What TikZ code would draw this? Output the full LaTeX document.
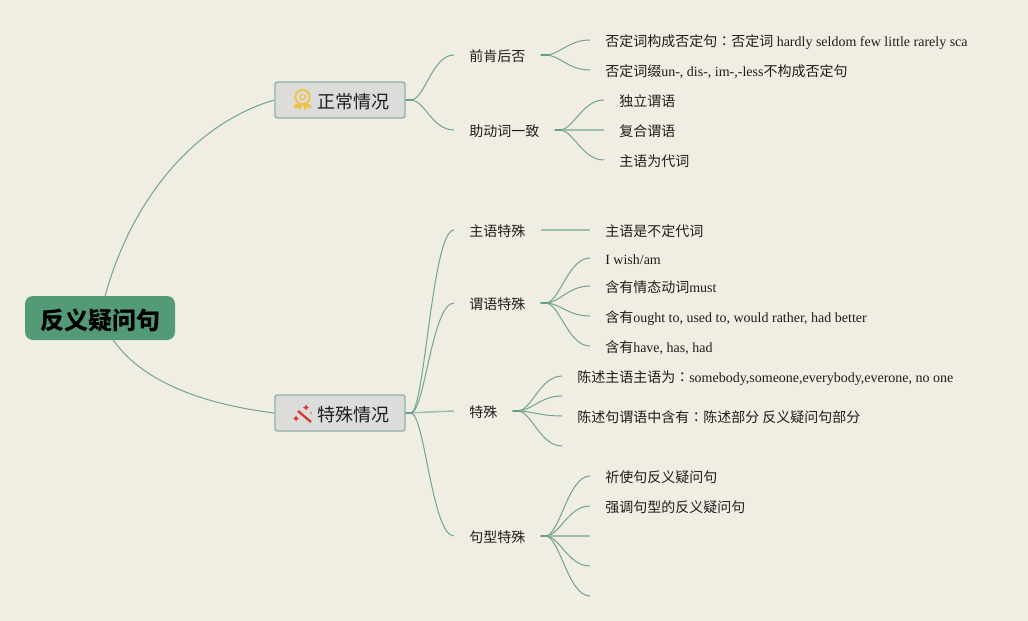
\documentclass[tikz,border=0pt]{standalone}
\usepackage{fontspec}
\setmainfont{Liberation Serif}
\newfontfamily\cjk{Noto Sans CJK SC}
\newfontfamily\cjktc{Noto Sans CJK TC}
\definecolor{bgc}{HTML}{F0EDE3}
\definecolor{rootc}{HTML}{539A76}
\definecolor{linec}{HTML}{6FA48F}
\definecolor{stubc}{HTML}{5B9A84}
\definecolor{boxc}{HTML}{DCDCDA}
\definecolor{boxb}{HTML}{8FB5A8}
\definecolor{inkc}{HTML}{1E1E1E}
\definecolor{medalc}{HTML}{EFC34A}
\definecolor{wandc}{HTML}{D2392C}
\newcommand{\cjkcolon}{{\cjktc ：}}
\newcommand{\myconn}[2]{%
  \draw[stubline] (#1) -- ++(7,0);
  \draw[conline] (#1) -- ++(5,0) .. controls +(14,0) and +(-22,0) .. (#2);}
\newcommand{\myflat}[2]{%
  \draw[stubline] (#1) -- ++(7,0);
  \draw[flatline] (#1) -- (#2);}
\tikzset{
  x=0.75pt,y=-0.75pt,
  conline/.style={draw=linec,line width=0.75pt},
  flatline/.style={draw=linec!65!bgc,line width=1.1pt},
  stubline/.style={draw=stubc,line width=1.4pt},
  rootbox/.style={fill=rootc,rounded corners=6pt,minimum width=112.5pt,minimum height=33pt,inner sep=0pt,text height=18.5pt,text depth=2pt,text=black,font=\cjk\bfseries\fontsize{18}{20}\selectfont},
  branchbox/.style={fill=boxc,draw=boxb,line width=1.1pt,rounded corners=1.8pt,minimum width=97.5pt,minimum height=27pt,inner sep=0pt,text height=14pt,text depth=1.6pt,text=inkc,font=\cjk\fontsize{13.5}{15}\selectfont},
  topic/.style={inner xsep=11.25pt,inner ysep=0pt,text height=12pt,text depth=2pt,text=inkc,font=\fontsize{10.5}{12}\selectfont},
}
\begin{document}
\begin{tikzpicture}
\useasboundingbox (0,0) rectangle (1028,621);
\fill[bgc] (0,0) rectangle (1028,621);

% main boxes
\node[rootbox] (root) at (100,318) {反义疑问句};
\node[branchbox] (normal) at (340,100) {\hspace*{19.5pt}正常情况};
\node[branchbox] (special) at (340,413) {\hspace*{19.5pt}特殊情况};

% medal icon
\draw[medalc,line width=1.5pt] (302.5,97) circle (7.2);
\draw[medalc,line width=1pt] (302.5,97) circle (2.8);
\fill[medalc] (294,105) -- (299,103) -- (302,106) -- (300,110.5) -- (298,107.5) -- (294,108.5) -- cycle;
\fill[medalc] (311,105) -- (306,103) -- (303,106) -- (305,110.5) -- (307,107.5) -- (311,108.5) -- cycle;

% wand icon
\draw[wandc,line width=1.7pt] (298,411) -- (311,422);
\fill[wandc] (306,404.5) -- (307,406.5) -- (309,407.5) -- (307,408.5) -- (306,410.5) -- (305,408.5) -- (303,407.5) -- (305,406.5) -- cycle;
\fill[wandc] (296,415.5) -- (297,417.5) -- (299,418.5) -- (297,419.5) -- (296,421.5) -- (295,419.5) -- (293,418.5) -- (295,417.5) -- cycle;
\fill[wandc!80!bgc] (311,413) circle (0.9);

% second level
\node[topic,anchor=west] (qk) at (454,55) {\cjk 前肯后否};
\node[topic,anchor=west] (zd) at (454,130) {\cjk 助动词一致};
\node[topic,anchor=west] (zy) at (454,230) {\cjk 主语特殊};
\node[topic,anchor=west] (wy) at (454,303) {\cjk 谓语特殊};
\node[topic,anchor=west] (ts) at (454,411) {\cjk 特殊};
\node[topic,anchor=west] (jx) at (454,536) {\cjk 句型特殊};

% leaves
\node[topic,anchor=west] (a1) at (590,40) {{\cjk 否定词构成否定句}\cjkcolon{\cjk 否定词} hardly seldom few little rarely sca};
\node[topic,anchor=west] (a2) at (590,70) {{\cjk 否定词缀}un-, dis-, im-,-less{\cjk 不构成否定句}};
\node[topic,anchor=west] (b1) at (604,100) {\cjk 独立谓语};
\node[topic,anchor=west] (b2) at (604,130) {\cjk 复合谓语};
\node[topic,anchor=west] (b3) at (604,160) {\cjk 主语为代词};
\node[topic,anchor=west] (c1) at (590,230) {\cjk 主语是不定代词};
\node[topic,anchor=west] (d1) at (590,258) {I wish/am};
\node[topic,anchor=west] (d2) at (590,286) {{\cjk 含有情态动词}must};
\node[topic,anchor=west] (d3) at (590,316) {{\cjk 含有}ought to, used to, would rather, had better};
\node[topic,anchor=west] (d4) at (590,346) {{\cjk 含有}have, has, had};
\node[topic,anchor=west] (e1) at (562,376) {{\cjk 陈述主语主语为}\cjkcolon somebody,someone,everybody,everone, no one};
\coordinate (e2) at (562,396);
\node[topic,anchor=west] (e3) at (562,416) {{\cjk 陈述句谓语中含有}\cjkcolon{\cjk 陈述部分 反义疑问句部分}};
\coordinate (e4) at (562,446);
\node[topic,anchor=west] (f1) at (590,476) {\cjk 祈使句反义疑问句};
\node[topic,anchor=west] (f2) at (590,506) {\cjk 强调句型的反义疑问句};
\coordinate (f3) at (590,536);
\coordinate (f4) at (590,566);
\coordinate (f5) at (590,596);

% connectors
\draw[conline] (root.77) .. controls (130,205) and (190,125) .. (normal.west);
\draw[conline] (root.-59) .. controls (145,385) and (210,405) .. (special.west);

\myconn{normal.east}{qk.west}
\myconn{normal.east}{zd.west}
\myconn{special.east}{zy.west}
\myconn{special.east}{wy.west}
\myflat{special.east}{ts.west}
\myconn{special.east}{jx.west}

\myconn{qk.east}{a1.west}
\myconn{qk.east}{a2.west}
\myconn{zd.east}{b1.west}
\myflat{zd.east}{b2.west}
\myconn{zd.east}{b3.west}
\myflat{zy.east}{c1.west}
\myconn{wy.east}{d1.west}
\myconn{wy.east}{d2.west}
\myconn{wy.east}{d3.west}
\myconn{wy.east}{d4.west}
\myconn{ts.east}{e1.west}
\myconn{ts.east}{e2}
\myconn{ts.east}{e3.west}
\myconn{ts.east}{e4}
\myconn{jx.east}{f1.west}
\myconn{jx.east}{f2.west}
\myflat{jx.east}{f3}
\myconn{jx.east}{f4}
\myconn{jx.east}{f5}
\end{tikzpicture}
\end{document}
